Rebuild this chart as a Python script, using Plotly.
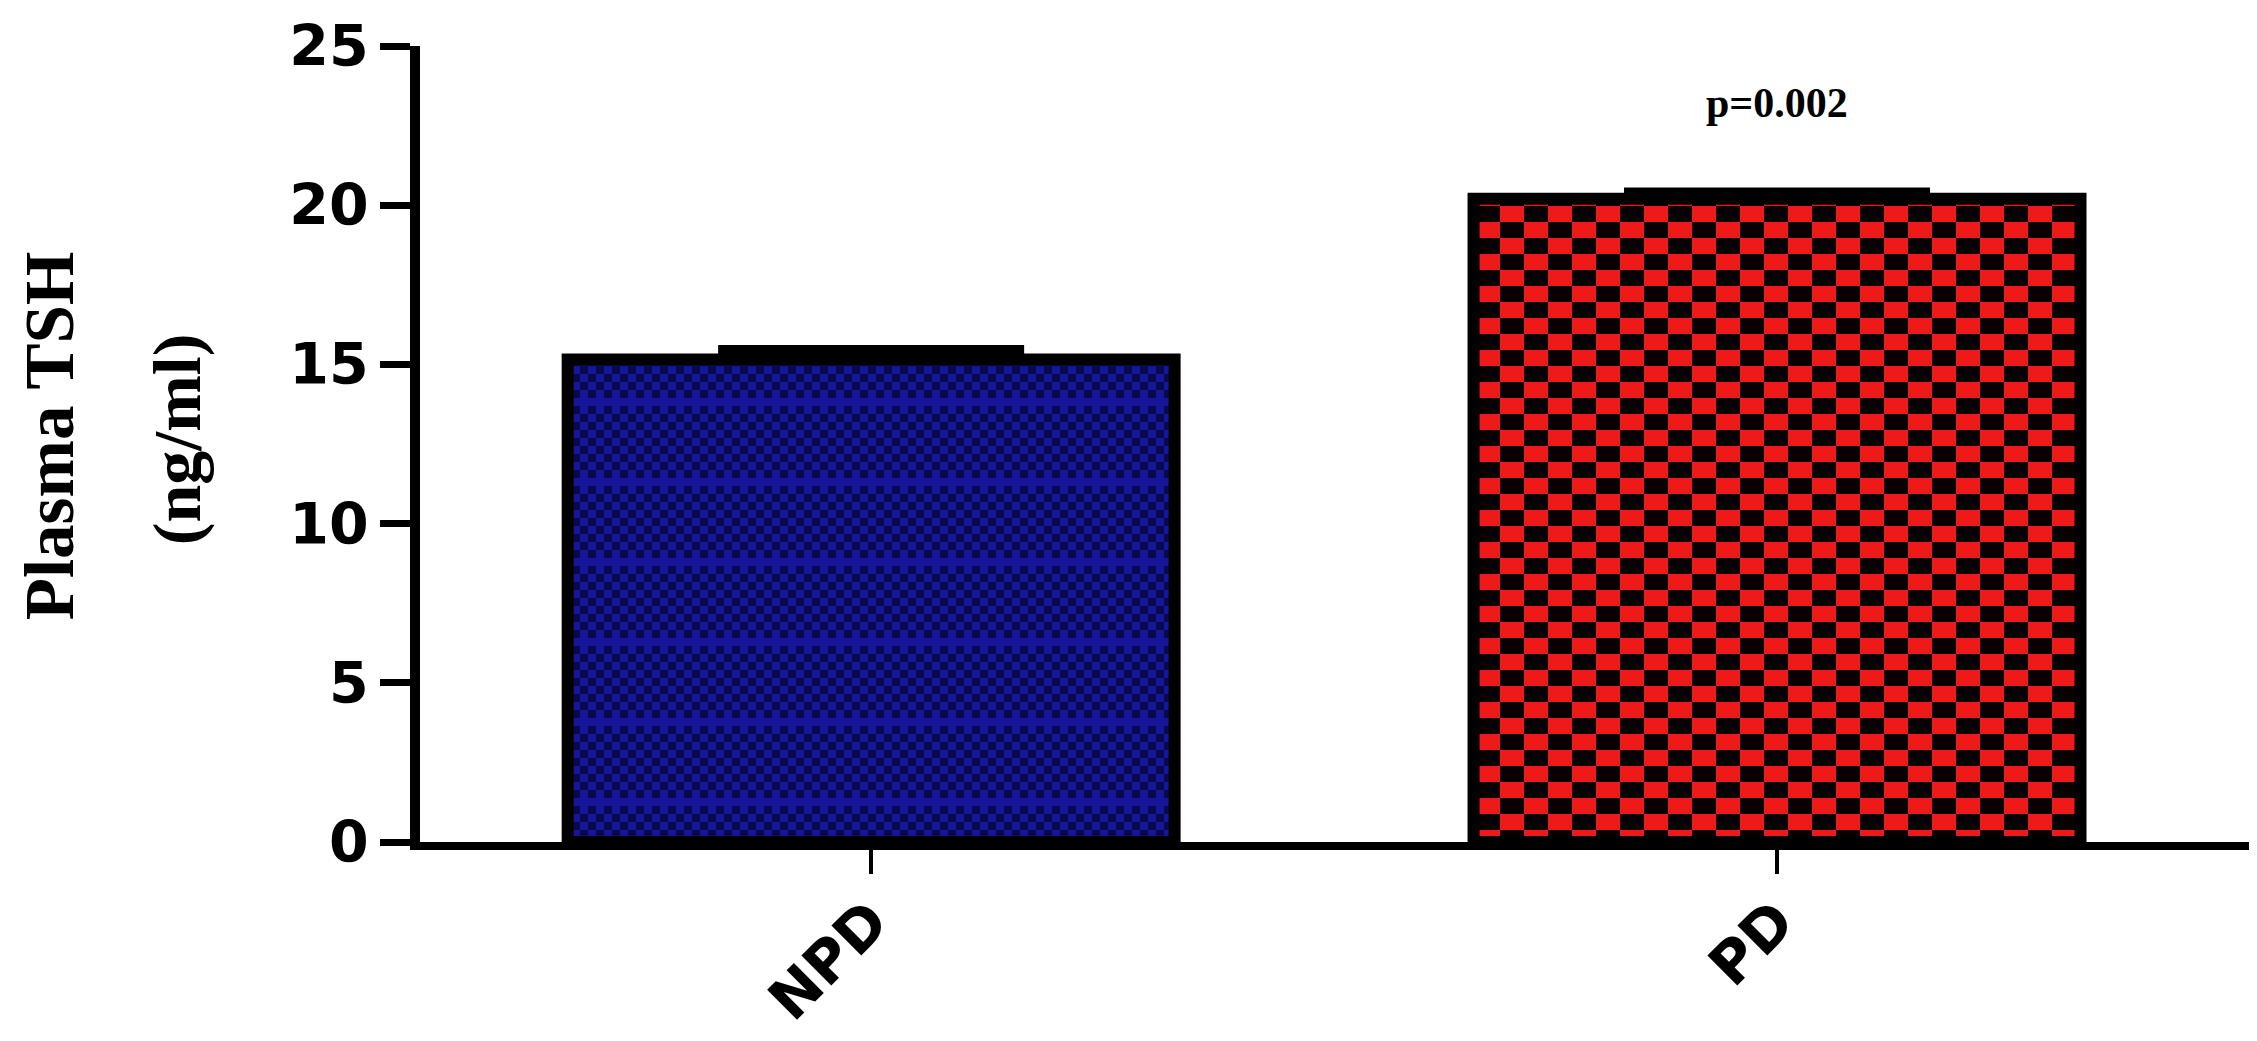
import plotly.graph_objects as go

# data
groups = ["NPD", "PD"]
tsh_mean = [15.15, 20.2]
tsh_sem = [0.3, 0.2]
y_ticks = [0, 5, 10, 15, 20, 25]
p_label = "p=0.002"
p_label_y = 23.2


def checker_path(cols, rows, cw, ch, skip_rows=()):
    parts = []
    for r in range(rows):
        if r in skip_rows:
            continue
        for c in range(cols):
            if (r + c) % 2 == 0:
                x0, y0 = c * cw, r * ch
                parts.append(f"M{x0},{y0}H{x0 + cw}V{y0 + ch}H{x0}Z")
    return "".join(parts)


bar_styles = [
    # fine navy checker with a faint lighter band once per tile
    dict(bgcolor="#16169a", fgcolor="#09094e", size=80, path=checker_path(10, 10, 8, 8, skip_rows=(4,))),
    # coarse red / black checker
    dict(bgcolor="#ee1a1a", fgcolor="#0a0000", size=96, path=checker_path(4, 6, 24, 16)),
]

fig = go.Figure()
for i, name in enumerate(groups):
    st = bar_styles[i]
    fig.add_trace(go.Bar(
        x=[name], y=[tsh_mean[i]],
        width=0.67,
        marker=dict(
            color=st["bgcolor"],
            line=dict(color="black", width=12),
            pattern=dict(path=st["path"], size=st["size"], fgcolor=st["fgcolor"],
                         bgcolor=st["bgcolor"], fillmode="overlay", solidity=1, fgopacity=1),
        ),
        error_y=dict(type="data", array=[tsh_sem[i]], arrayminus=[0], symmetric=False,
                     color="black", thickness=10, width=153),
        showlegend=False,
    ))

fig.add_annotation(x=groups[1], y=p_label_y, xref="x", yref="y", text=f"<b>{p_label}</b>",
                   showarrow=False, font=dict(family="Liberation Serif", size=42, color="black"))

# two-line y title, placed as separate rotated texts
fig.add_annotation(x=-0.2023, y=0.511, xref="paper", yref="paper", text="<b>Plasma TSH</b>",
                   textangle=-90, showarrow=False, xanchor="center", yanchor="middle",
                   font=dict(family="Liberation Serif", size=69, color="black"))
fig.add_annotation(x=-0.1329, y=0.506, xref="paper", yref="paper", text="<b>(ng/ml)</b>",
                   textangle=-90, showarrow=False, xanchor="center", yanchor="middle",
                   font=dict(family="Liberation Serif", size=68, color="black"))

fig.update_layout(
    width=2241, height=1025,
    margin=dict(l=412, r=0, t=38, b=152),
    plot_bgcolor="white", paper_bgcolor="white",
    font=dict(family="DejaVu Sans", color="black"),
)
fig.update_xaxes(
    range=[-0.498, 1.521],
    showline=True, linecolor="black", linewidth=8,
    ticks="outside", ticklen=24, tickwidth=4, tickcolor="black",
    tickangle=-45, ticklabelstandoff=-10,
    tickfont=dict(family="DejaVu Sans", size=58, weight="bold", color="black"),
    showgrid=False, zeroline=False,
)
fig.update_yaxes(
    range=[0, 25], tickvals=y_ticks,
    showline=True, linecolor="black", linewidth=10,
    ticks="outside", ticklen=30, tickwidth=7, tickcolor="black",
    tickfont=dict(family="DejaVu Sans", size=57, weight="bold", color="black"),
    showgrid=False, zeroline=False,
)

fig.write_html("out.html")
